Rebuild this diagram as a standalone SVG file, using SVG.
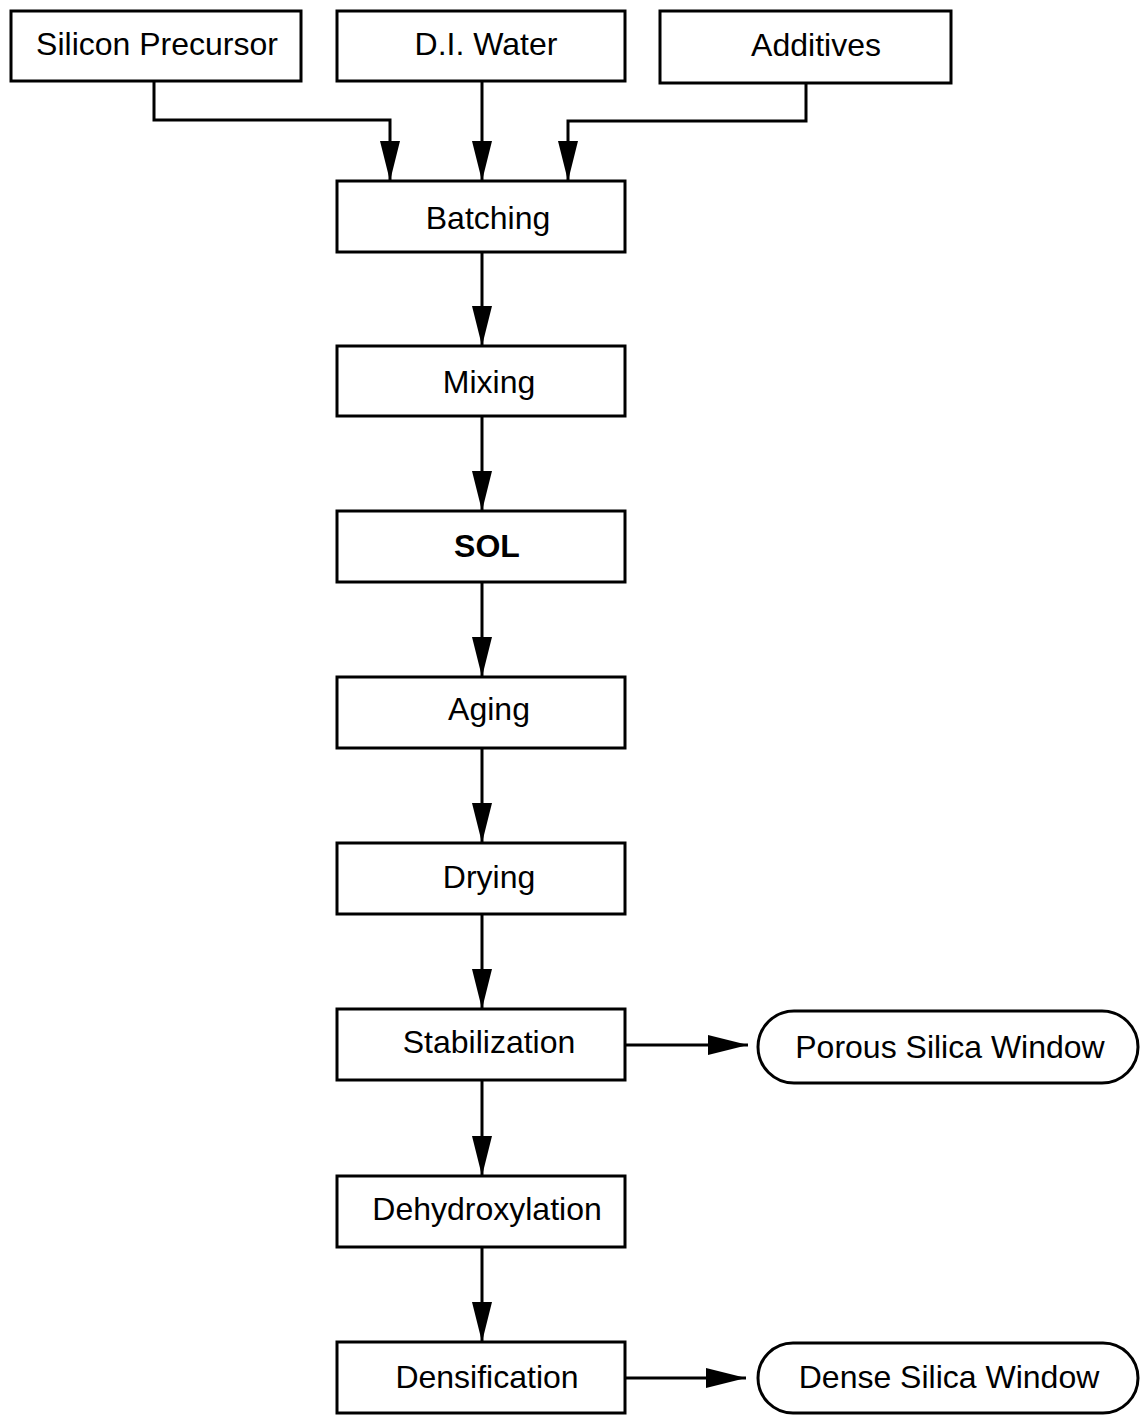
<svg xmlns="http://www.w3.org/2000/svg" width="1140" height="1415" viewBox="0 0 1140 1415">
<style>
.box{fill:#fff;stroke:#000;stroke-width:3}
.t{font-family:"Liberation Sans",Arial,sans-serif;font-size:32px;fill:#000;text-anchor:middle}
.b{font-weight:bold}
.c{fill:none;stroke:#000;stroke-width:3}
</style>
<defs>
<marker id="ah" markerUnits="userSpaceOnUse" markerWidth="42" markerHeight="22" refX="40" refY="10" orient="auto">
<path d="M0,0 L40,10 L0,20 Z" fill="#000"/>
</marker>
</defs>
<rect width="1140" height="1415" fill="#fff"/>
<g id="connectors">
<path class="c" d="M154,81 V120 H390 V181" marker-end="url(#ah)"/>
<path class="c" d="M482,81 V181" marker-end="url(#ah)"/>
<path class="c" d="M806,83 V121 H568 V181" marker-end="url(#ah)"/>
<path class="c" d="M482,252 V346" marker-end="url(#ah)"/>
<path class="c" d="M482,416 V511" marker-end="url(#ah)"/>
<path class="c" d="M482,582 V677" marker-end="url(#ah)"/>
<path class="c" d="M482,748 V843" marker-end="url(#ah)"/>
<path class="c" d="M482,914 V1009" marker-end="url(#ah)"/>
<path class="c" d="M482,1080 V1176" marker-end="url(#ah)"/>
<path class="c" d="M482,1247 V1342" marker-end="url(#ah)"/>
<path class="c" d="M625,1045 H748" marker-end="url(#ah)"/>
<path class="c" d="M625,1378 H746" marker-end="url(#ah)"/>
</g>
<g id="silicon"><rect class="box" x="11" y="11" width="290" height="70"/><text class="t" x="157" y="55">Silicon Precursor</text></g>
<g id="water"><rect class="box" x="337" y="11" width="288" height="70"/><text class="t" x="486" y="55">D.I. Water</text></g>
<g id="additives"><rect class="box" x="660" y="11" width="291" height="72"/><text class="t" x="816" y="56">Additives</text></g>
<g id="batching"><rect class="box" x="337" y="181" width="288" height="71"/><text class="t" x="488" y="229">Batching</text></g>
<g id="mixing"><rect class="box" x="337" y="346" width="288" height="70"/><text class="t" x="489" y="393">Mixing</text></g>
<g id="sol"><rect class="box" x="337" y="511" width="288" height="71"/><text class="t b" x="487" y="557">SOL</text></g>
<g id="aging"><rect class="box" x="337" y="677" width="288" height="71"/><text class="t" x="489" y="720">Aging</text></g>
<g id="drying"><rect class="box" x="337" y="843" width="288" height="71"/><text class="t" x="489" y="888">Drying</text></g>
<g id="stabilization"><rect class="box" x="337" y="1009" width="288" height="71"/><text class="t" x="489" y="1053">Stabilization</text></g>
<g id="porous"><rect class="box" x="758" y="1011" width="380" height="72" rx="36" ry="36"/><text class="t" x="950" y="1058">Porous Silica Window</text></g>
<g id="dehydroxylation"><rect class="box" x="337" y="1176" width="288" height="71"/><text class="t" x="487" y="1220">Dehydroxylation</text></g>
<g id="densification"><rect class="box" x="337" y="1342" width="288" height="71"/><text class="t" x="487" y="1388">Densification</text></g>
<g id="dense"><rect class="box" x="758" y="1343" width="380" height="70" rx="35" ry="35"/><text class="t" x="949" y="1388">Dense Silica Window</text></g>
</svg>
